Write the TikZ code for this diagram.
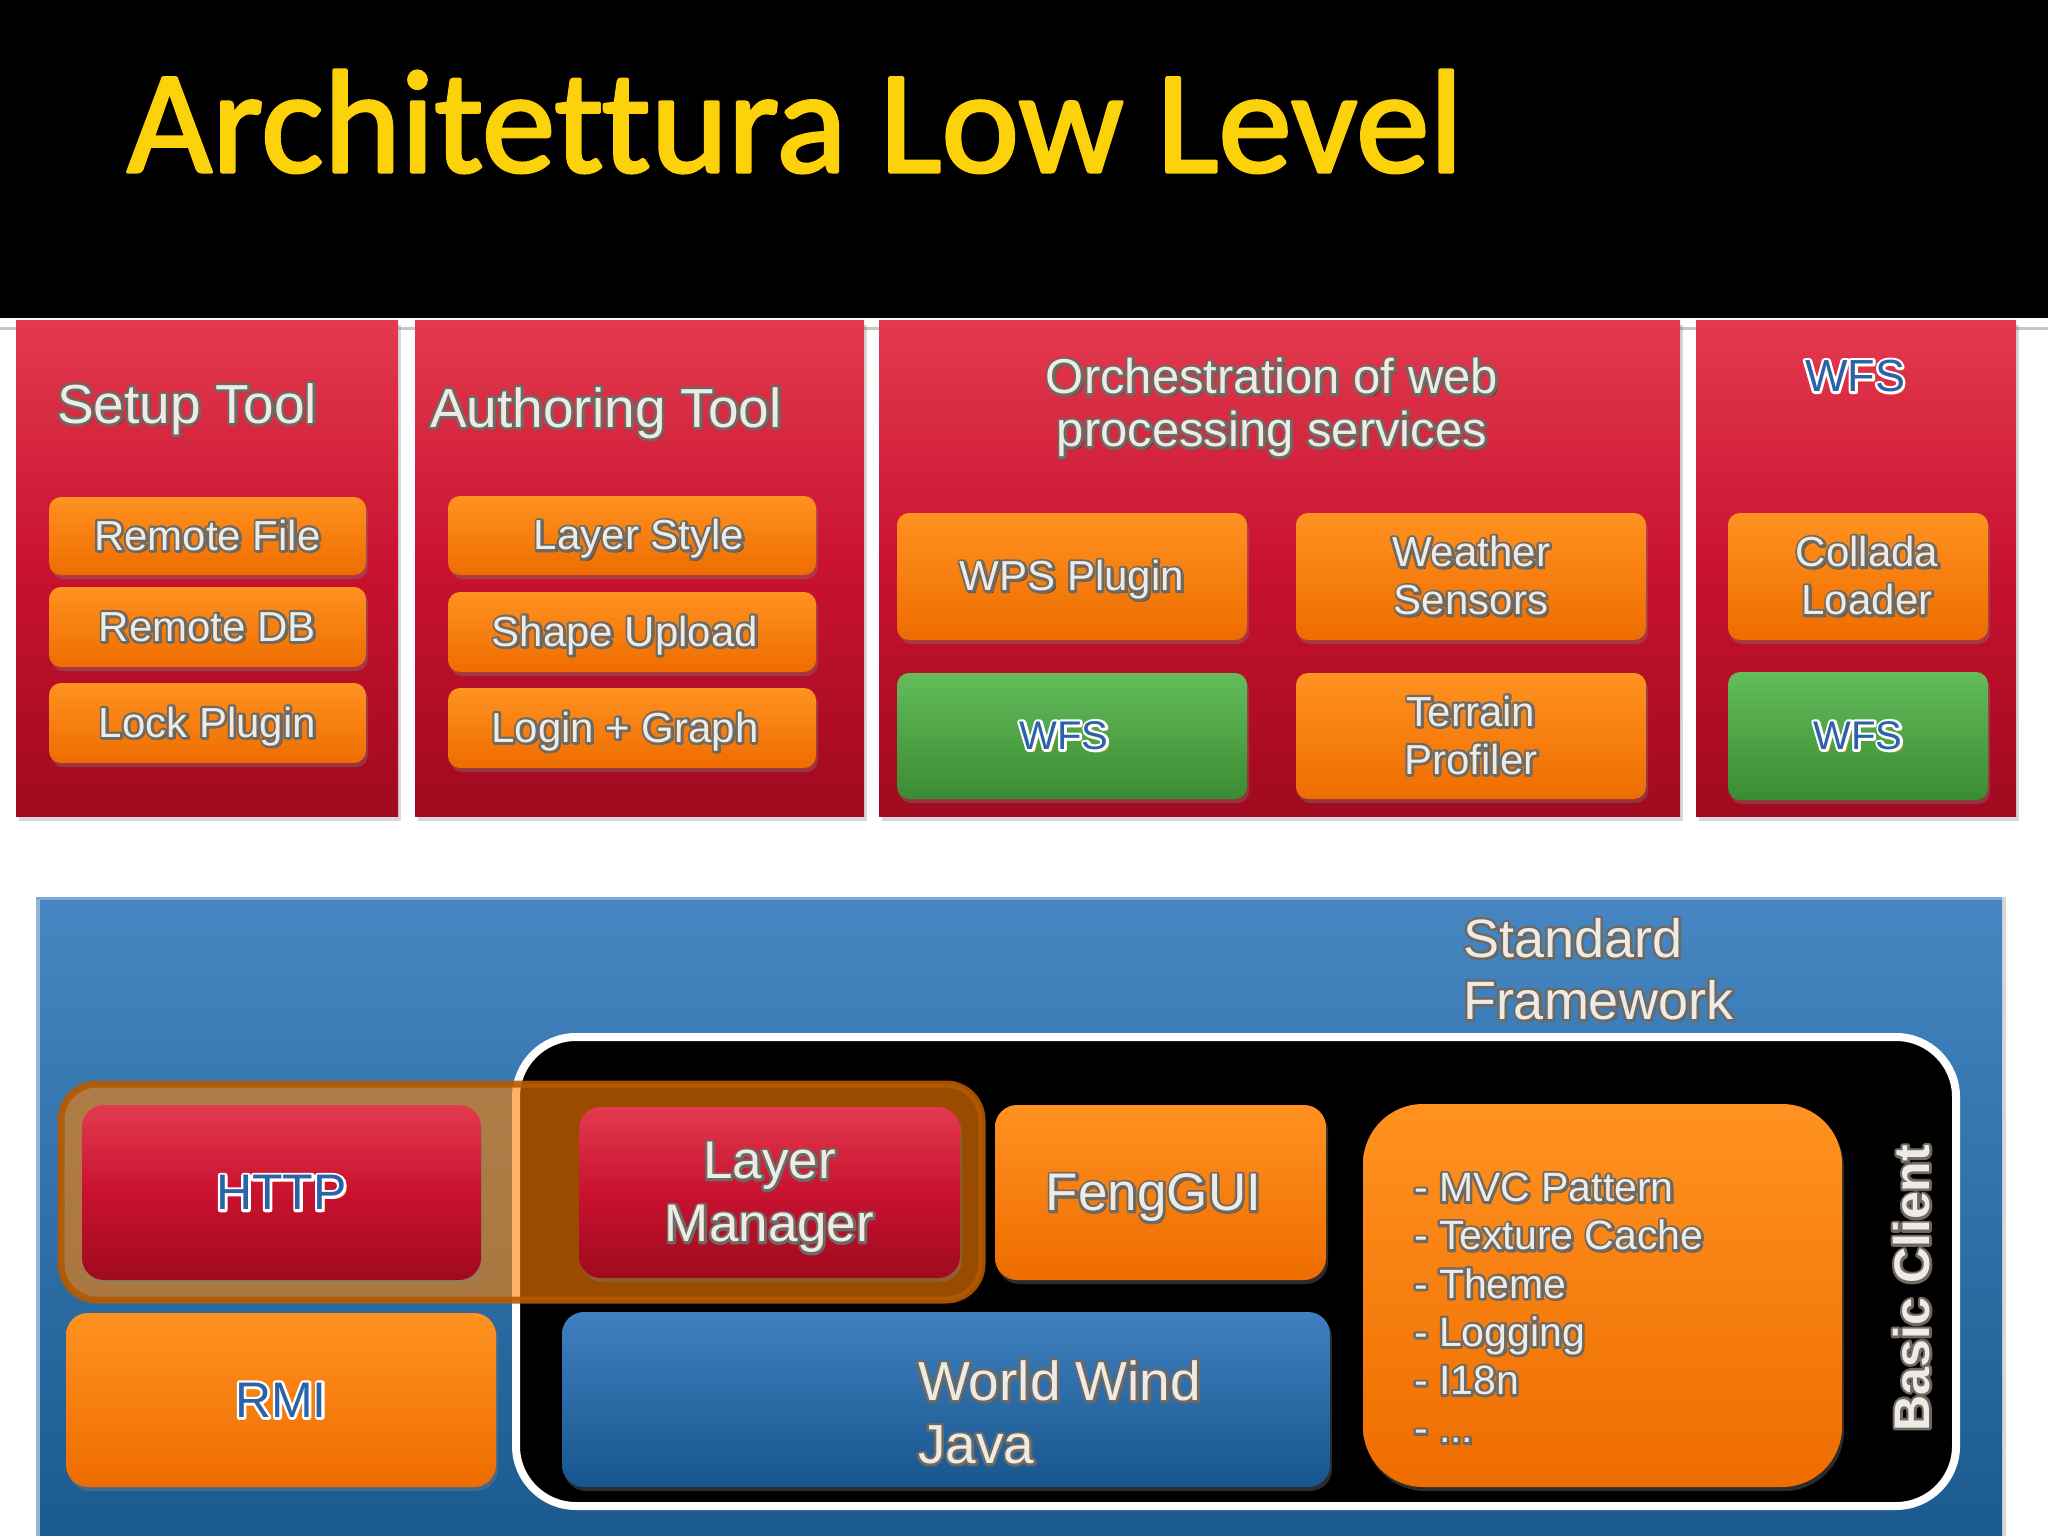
\documentclass[tikz,border=0pt]{standalone}
\usepackage{fontspec}
\setmainfont{Liberation Sans}
\newfontfamily\titlefont[Ligatures=NoCommon]{Carlito}
\usetikzlibrary{shadows}
\definecolor{redtop}{HTML}{E33A4E}
\definecolor{redmid}{HTML}{C81230}
\definecolor{redbot}{HTML}{A00A1E}
\definecolor{orgtop}{HTML}{FF9220}
\definecolor{orgbot}{HTML}{EE6C00}
\definecolor{grntop}{HTML}{64BC5A}
\definecolor{grnbot}{HTML}{3A8C32}
\definecolor{bluetop}{HTML}{4686C2}
\definecolor{bluebot}{HTML}{1A5A8E}
\definecolor{wwtop}{HTML}{4080BF}
\definecolor{wwbot}{HTML}{17568E}
\definecolor{hiorg}{HTML}{FF8000}
\definecolor{hibord}{HTML}{B45A00}
\definecolor{titley}{HTML}{FCD20A}
\definecolor{embfill}{HTML}{EEEBE6}
\definecolor{embol}{HTML}{6E6862}
\definecolor{embsh}{HTML}{3A2A2A}
\definecolor{wafill}{HTML}{2B63A6}
\definecolor{wash}{HTML}{E89A18}
% text render mode helpers
\newcommand\trs[3]{\special{pdf:literal direct #1 Tr #2 w 1 j #3 RG}}
\newcommand\tre{\special{pdf:literal direct 0 Tr}}
\newcommand\txtl[2]{\begin{tabular}{@{}#1@{}}\rule{0pt}{1.08em}#2\end{tabular}}
\newcommand\mycp[4]{\rlap{\kern#1\raisebox{#2}{\color{#3}#4}}}
\newcommand\embt[2][c]{%
\mycp{2.4pt}{-2.4pt}{embsh}{\txtl{#1}{#2}}%
\rlap{\color{embol}\trs{1}{5}{0.43 0.41 0.38}\txtl{#1}{#2}\tre}%
{\color{embfill}\txtl{#1}{#2}}}
\newcommand\wart[1]{%
\mycp{2.6pt}{-2.6pt}{wash}{\txtl{c}{#1}}%
\rlap{\color{white}\trs{1}{5}{1 1 1}\txtl{c}{#1}\tre}%
{\color{wafill}\txtl{c}{#1}}}
\begin{document}
\begin{tikzpicture}[x=1pt,y=-1pt,
  panel/.style={rectangle, inner sep=0, draw=none, top color=redtop, bottom color=redbot, middle color=redmid,
    drop shadow={opacity=.3, shadow xshift=3pt, shadow yshift=-5pt}},
  sbox/.style={rectangle, rounded corners=12pt, inner sep=0, draw=none,
    drop shadow={opacity=.35, shadow xshift=2pt, shadow yshift=-4pt}},
  obox/.style={sbox, top color=orgtop, bottom color=orgbot},
  gbox/.style={sbox, top color=grntop, bottom color=grnbot},
  rbox/.style={sbox, rounded corners=22pt, top color=redtop, bottom color=redbot, middle color=redmid},
  bobox/.style={sbox, rounded corners=22pt, top color=orgtop, bottom color=orgbot},
  wwbox/.style={sbox, rounded corners=22pt, top color=wwtop, bottom color=wwbot},
  sub/.style={font=\fontsize{42pt}{48pt}\selectfont},
  ptitle/.style={inner sep=0, font=\fontsize{55pt}{62pt}\selectfont},
  txt/.style={inner sep=0, outer sep=0}]
\useasboundingbox (0,0) rectangle (2048,1536);
\fill[white] (0,0) rectangle (2048,1536);
\fill[black] (0,0) rectangle (2048,318);
\draw[gray!45, line width=3pt] (0,328) -- (2048,328);
\node[txt, anchor=base west, text=titley, font=\titlefont\fontsize{147pt}{150pt}\selectfont] (title) at (127,172) {\trs{2}{3}{0.99 0.82 0.04}Architettura Low Level\tre};
% top panels
\node[panel, minimum width=382pt, minimum height=496pt] (p1) at (207,568) {};
\node[panel, minimum width=449pt, minimum height=496pt] (p2) at (639.5,568) {};
\node[panel, minimum width=801pt, minimum height=496pt] (p3) at (1279.5,568) {};
\node[panel, minimum width=320pt, minimum height=496pt] (p4) at (1856,568) {};
\node[ptitle] (t1) at (187,404) {\embt{Setup Tool}};
\node[ptitle] (t2) at (606,408) {\embt{Authoring Tool}};
\node[txt, font=\fontsize{49pt}{53pt}\selectfont] (t3) at (1272,403) {\embt{Orchestration of web\\processing services}};
\node[txt, font=\fontsize{45pt}{50pt}\selectfont] (t4) at (1855,376) {\wart{WFS}};
% panel 1 boxes
\node[obox, sub, minimum width=317pt, minimum height=78pt] (rf) at (207.5,536) {\embt{Remote File}};
\node[obox, sub, minimum width=317pt, minimum height=80pt] (rdb) at (207.5,627) {\embt{Remote DB}};
\node[obox, sub, minimum width=317pt, minimum height=80pt] (lp) at (207.5,723) {\embt{Lock Plugin}};
% panel 2 boxes
\node[obox, sub, minimum width=368pt, minimum height=79pt] (ls) at (632,535.5) {\kern14pt\embt{Layer Style}};
\node[obox, sub, minimum width=368pt, minimum height=80pt] (su) at (632,632) {\embt{Shape Upload}\kern14pt};
\node[obox, sub, minimum width=368pt, minimum height=80pt] (lg) at (632,728) {\embt{Login + Graph}\kern14pt};
% panel 3 boxes
\node[obox, sub, minimum width=350pt, minimum height=127pt] (wps) at (1072,576.5) {\embt{WPS Plugin}};
\node[obox, sub, minimum width=350pt, minimum height=127pt] (ws) at (1471,576.5) {\embt{Weather\\Sensors}};
\node[gbox, minimum width=350pt, minimum height=126pt, font=\fontsize{40pt}{46pt}\selectfont] (wfs1) at (1072,736) {\wart{WFS}\kern16pt};
\node[obox, sub, minimum width=350pt, minimum height=126pt] (tp) at (1471,736) {\embt{Terrain\\Profiler}};
% panel 4 boxes
\node[obox, sub, minimum width=260pt, minimum height=127pt] (cl) at (1858,576.5) {\kern18pt\embt{Collada\\Loader}};
\node[gbox, minimum width=260pt, minimum height=128pt, font=\fontsize{40pt}{46pt}\selectfont] (wfs2) at (1858,736) {\wart{WFS}};
% bottom panel
\node[rectangle, inner sep=0, top color=bluetop, bottom color=bluebot, minimum width=1966pt, minimum height=645pt,
  drop shadow={opacity=.3, shadow xshift=4pt, shadow yshift=0pt}] (sf) at (1019,1219.5) {};
\draw[white!40!bluetop, line width=4pt] (38,899) -- (38,1536);
\draw[white!30!bluetop, line width=3pt] (36,898.5) -- (2002,898.5);
\node[txt, anchor=west, font=\fontsize{54pt}{62pt}\selectfont] (sft) at (1463,969.5) {\embt[l]{Standard\\Framework}};
\node[rectangle, rounded corners=60pt, fill=black, draw=white, line width=8pt, minimum width=1440pt, minimum height=469pt] (bc) at (1236,1271.5) {};
\node[rectangle, rounded corners=36pt, fill=hiorg, fill opacity=.6, draw=hibord, draw opacity=.9, line width=7pt,
  minimum width=921pt, minimum height=216pt] (hl) at (521.5,1192) {};
\node[txt, rotate=90, font=\bfseries\fontsize{50pt}{56pt}\selectfont] (bct) at (1912,1288) {\embt{Basic Client}};
\node[rbox, minimum width=399pt, minimum height=175pt, font=\fontsize{50pt}{56pt}\selectfont] (http) at (281.5,1192.5) {\wart{HTTP}};
\node[rbox, minimum width=381pt, minimum height=171pt, font=\fontsize{53pt}{63pt}\selectfont] (lm) at (769.5,1192.5) {\embt{Layer\\Manager}};
\node[bobox, minimum width=331pt, minimum height=175pt, font=\fontsize{53pt}{60pt}\selectfont] (feng) at (1160.5,1192.5) {\embt{FengGUI}\kern14pt};
\node[bobox, rounded corners=60pt, minimum width=479pt, minimum height=383pt] (mvc) at (1602.5,1295.5) {};
\node[txt, anchor=west, font=\fontsize{41pt}{48.2pt}\selectfont] (mvct) at (1414,1308.5) {\embt[l]{- MVC Pattern\\- Texture Cache\\- Theme\\- Logging\\- I18n\\- ...}};
\node[wwbox, minimum width=768pt, minimum height=175pt] (ww) at (946,1399.5) {};
\node[txt, anchor=west, font=\fontsize{55pt}{63pt}\selectfont] (wwt) at (918,1413) {\embt[l]{World Wind\\Java}};
\node[bobox, minimum width=430pt, minimum height=174pt, font=\fontsize{50pt}{56pt}\selectfont] (rmi) at (281,1400) {\wart{RMI}};
\end{tikzpicture}
\end{document}
